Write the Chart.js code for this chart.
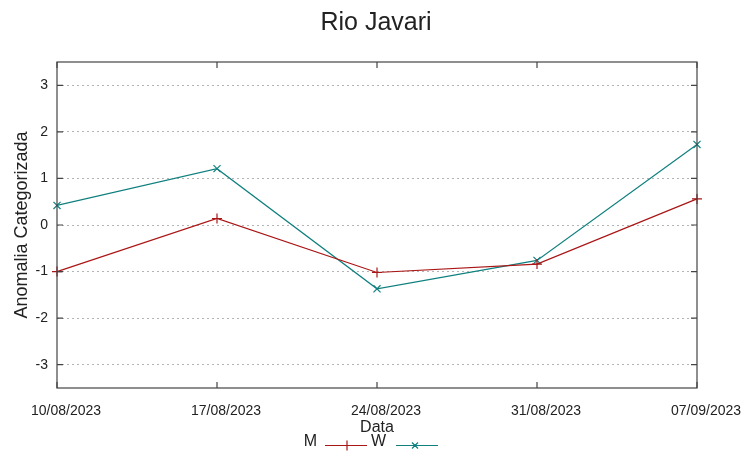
<!DOCTYPE html>
<html>
<head>
<meta charset="utf-8">
<script src="https://cdn.jsdelivr.net/npm/chart.js@4"></script>
<style>
  body { margin: 0; background: #fff; }
  #wrap { width: 752px; height: 458px; }
</style>
</head>
<body>
<div id="wrap"><canvas id="chart" width="752" height="458"></canvas></div>
<script>
// data
const dates = ['10/08/2023', '17/08/2023', '24/08/2023', '31/08/2023', '07/09/2023'];
const serieM = [-1.0, 0.14, -1.02, -0.84, 0.56];
const serieW = [0.42, 1.21, -1.37, -0.76, 1.73];
const yTicks = [-3, -2, -1, 0, 1, 2, 3];

const corM = '#aa1515';
const corW = '#10807f';
const sans = '"Liberation Sans", Arial, sans-serif';

// frame with inward ticks + gnuplot style legend
const framePlugin = {
  id: 'frame',
  afterDraw(chart) {
    const ctx = chart.ctx;
    const a = chart.chartArea;
    const xs = chart.scales.x, ys = chart.scales.y;
    ctx.save();
    ctx.strokeStyle = '#444';
    ctx.lineWidth = 1.2;
    ctx.strokeRect(a.left, a.top, a.right - a.left, a.bottom - a.top);
    ctx.beginPath();
    yTicks.forEach(v => {
      const y = ys.getPixelForValue(v);
      ctx.moveTo(a.left, y); ctx.lineTo(a.left + 6, y);
      ctx.moveTo(a.right, y); ctx.lineTo(a.right - 6, y);
    });
    dates.forEach((d, i) => {
      const x = xs.getPixelForValue(i);
      ctx.moveTo(x, a.bottom); ctx.lineTo(x, a.bottom - 6);
      ctx.moveTo(x, a.top); ctx.lineTo(x, a.top + 6);
    });
    ctx.stroke();

    // legend
    ctx.font = '16px ' + sans;
    ctx.fillStyle = '#222';
    ctx.textBaseline = 'middle';
    ctx.textAlign = 'right';
    ctx.fillText('M', 317, 442);
    ctx.fillText('W', 386, 442);
    ctx.lineWidth = 1.2;
    ctx.strokeStyle = corM;
    ctx.beginPath();
    ctx.moveTo(325, 445.5); ctx.lineTo(367, 445.5);
    ctx.moveTo(347, 440.5); ctx.lineTo(347, 450.5);
    ctx.stroke();
    ctx.strokeStyle = corW;
    ctx.beginPath();
    ctx.moveTo(396, 445.5); ctx.lineTo(438, 445.5);
    ctx.moveTo(412, 442.5); ctx.lineTo(418, 448.5);
    ctx.moveTo(418, 442.5); ctx.lineTo(412, 448.5);
    ctx.stroke();
    ctx.restore();
  }
};

new Chart(document.getElementById('chart'), {
  type: 'line',
  data: {
    labels: dates,
    datasets: [
      {
        label: 'M',
        data: serieM,
        borderColor: corM,
        backgroundColor: corM,
        borderWidth: 1.2,
        pointStyle: 'cross',
        pointRadius: 5,
        pointBorderWidth: 1.2,
        tension: 0,
        fill: false
      },
      {
        label: 'W',
        data: serieW,
        borderColor: corW,
        backgroundColor: corW,
        borderWidth: 1.2,
        pointStyle: 'crossRot',
        pointRadius: 5,
        pointBorderWidth: 1.2,
        tension: 0,
        fill: false
      }
    ]
  },
  options: {
    responsive: false,
    animation: false,
    layout: { padding: 0 },
    plugins: {
      legend: { display: false },
      tooltip: { enabled: false },
      title: {
        display: true,
        text: 'Rio Javari',
        color: '#222',
        font: { family: sans, size: 25, weight: 'normal' },
        padding: { top: 8, bottom: 24 }
      }
    },
    scales: {
      x: {
        type: 'category',
        offset: false,
        afterFit: s => { s.height = 70; },
        grid: { display: false, drawTicks: false },
        border: { display: false },
        ticks: {
          color: '#222',
          font: { family: sans, size: 14 },
          padding: 15,
          labelOffset: 9,
          maxRotation: 0,
          autoSkip: false
        },
        title: {
          display: true,
          text: 'Data',
          color: '#222',
          font: { family: sans, size: 16 },
          padding: { top: 0, bottom: 21 }
        }
      },
      y: {
        min: -3.5,
        max: 3.5,
        afterFit: s => { s.width = 57; },
        afterBuildTicks: s => { s.ticks = yTicks.map(v => ({ value: v })); },
        grid: { color: '#b4b4b4', lineWidth: 1, drawTicks: false },
        border: { display: false, dash: [2, 3] },
        ticks: {
          color: '#222',
          font: { family: sans, size: 14 },
          padding: 9
        },
        title: {
          display: true,
          text: 'Anomalia Categorizada',
          color: '#222',
          font: { family: sans, size: 18 },
          padding: { top: 11, bottom: 0 }
        }
      },
      // empty right axis, only reserves the margin so the title stays centred
      yRight: {
        position: 'right',
        afterFit: s => { s.width = 55; },
        grid: { display: false, drawTicks: false },
        border: { display: false },
        ticks: { display: false }
      }
    }
  },
  plugins: [framePlugin]
});
</script>
</body>
</html>
